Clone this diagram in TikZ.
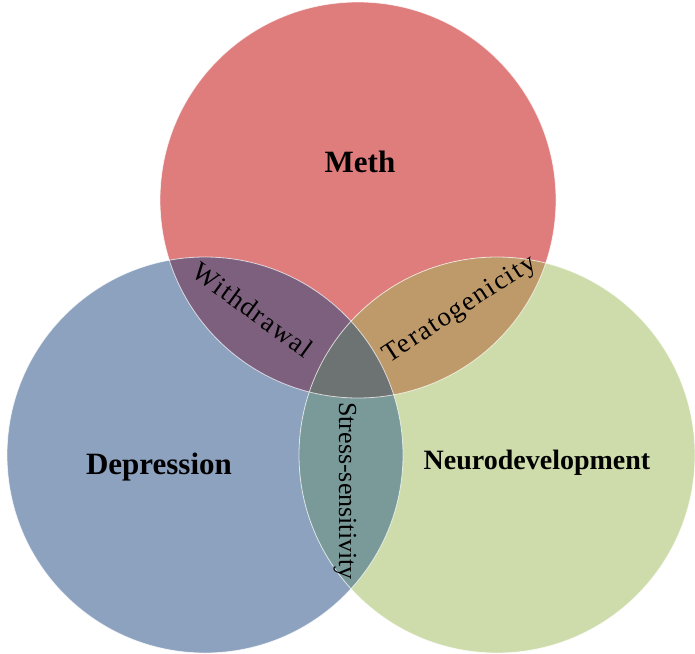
\documentclass[tikz,border=0pt]{standalone}
\usepackage{fontspec}
\setmainfont{Liberation Serif}
\usepackage{tikz}

\definecolor{methred}{HTML}{DF7C7C}
\definecolor{depblue}{HTML}{8DA2BF}
\definecolor{neurogreen}{HTML}{CDDCAA}
\definecolor{withpurple}{HTML}{7C607D}
\definecolor{teratan}{HTML}{BE9A6B}
\definecolor{stressteal}{HTML}{799A99}
\definecolor{coregray}{HTML}{6D7273}

\begin{document}
\begin{tikzpicture}[x=1pt,y=-1pt,
 set/.style={font=\fontsize{31}{31}\selectfont\bfseries,inner sep=0pt},
 overlap/.style={font=\fontsize{27}{27}\selectfont\addfontfeatures{LetterSpace=6},inner sep=0pt},
 rim/.style={draw=white,line width=0.8pt,draw opacity=0.7}]
\useasboundingbox (0,0) rectangle (695,653);
\coordinate (cM) at (358,200);
\coordinate (cD) at (205,455);
\coordinate (cN) at (497,455);
% base circles
\fill[methred] (cM) circle (198pt);
\fill[depblue] (cD) circle (198pt);
\fill[neurogreen] (cN) circle (198pt);
% pairwise overlaps
\begin{scope}
 \clip (cD) circle (198pt);
 \fill[stressteal] (cN) circle (198pt);
\end{scope}
\begin{scope}
 \clip (cM) circle (198pt);
 \fill[withpurple] (cD) circle (198pt);
 \fill[teratan] (cN) circle (198pt);
 \clip (cD) circle (198pt);
 \fill[coregray] (cN) circle (198pt);
\end{scope}
\draw[rim] (cM) circle (198pt);
\draw[rim] (cD) circle (198pt);
\draw[rim] (cN) circle (198pt);
% labels
\node[set] (meth) at (360,162) {Meth};
\node[set] (dep) at (159,467) {Depression};
\node[set,font=\fontsize{28}{28}\selectfont\bfseries] (neuro) at (537,463) {Neurodevelopment};
\node[overlap,rotate=-36] (withdr) at (253,310) {Withdrawal};
\node[overlap,rotate=33] (terat) at (460,310) {Teratogenicity};
\node[overlap,rotate=-90,font=\fontsize{26}{26}\selectfont] (stress) at (345,491) {Stress-sensitivity};
\end{tikzpicture}
\end{document}
